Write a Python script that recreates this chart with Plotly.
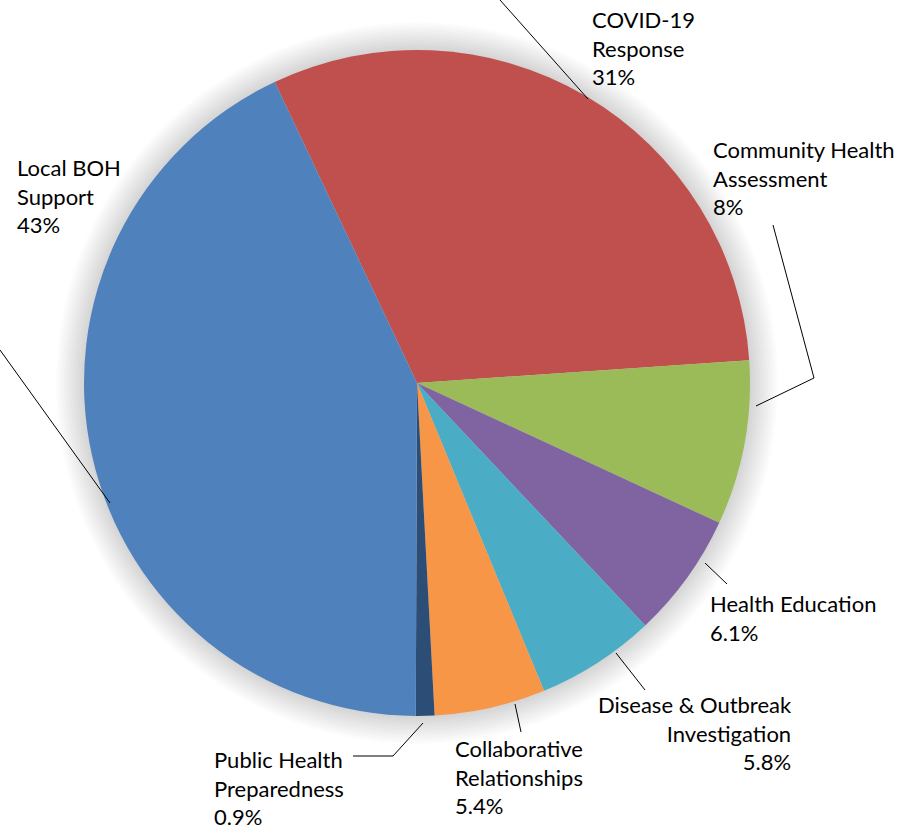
import plotly.graph_objects as go

# ---- data ----
categories = ["COVID-19 Response", "Community Health Assessment", "Health Education",
              "Disease & Outbreak Investigation", "Collaborative Relationships",
              "Public Health Preparedness", "Local BOH Support"]
values = [31, 8, 6.1, 5.8, 5.4, 0.9, 43]
pct_labels = ["31%", "8%", "6.1%", "5.8%", "5.4%", "0.9%", "43%"]
label_lines = [["COVID-19", "Response"], ["Community Health", "Assessment"], ["Health Education"],
               ["Disease & Outbreak", "Investigation"], ["Collaborative", "Relationships"],
               ["Public Health", "Preparedness"], ["Local BOH", "Support"]]
colors = ["#C0504D", "#9BBB59", "#8064A2", "#4BACC6", "#F79646", "#2C4D75", "#4F81BD"]

W, H = 902, 829
CX, CY, R = 417, 383, 333

def px(x):
    return x / W

def py(y):
    return 1 - y / H

fig = go.Figure(go.Pie(
    labels=categories, values=values, sort=False, direction="clockwise",
    rotation=-25.3, textinfo="none", hoverinfo="label+percent",
    marker=dict(colors=colors, line=dict(width=0)),
    domain=dict(x=[px(CX - R), px(CX + R)], y=[py(CY + R), py(CY - R)]),
    showlegend=False,
))

shapes = []
# soft shadow around pie
for i in range(14, 0, -1):
    rr = R + 2 * i
    shapes.append(dict(type="circle", xref="paper", yref="paper", layer="below",
                       x0=px(CX - rr), x1=px(CX + rr), y0=py(CY + rr), y1=py(CY - rr),
                       fillcolor="rgba(0,0,0,0.011)", line=dict(width=0)))

# leader lines (pixel paths)
leaders = [
    [(500, 0), (588, 99)],
    [(773, 225), (814, 378), (756, 406)],
    [(705, 563), (727, 584)],
    [(616, 653), (645, 690)],
    [(515, 704), (521, 732)],
    [(423, 723), (393, 756), (353, 756)],
    [(0, 350), (110, 503)],
]
for pts in leaders:
    for (x0, y0), (x1, y1) in zip(pts[:-1], pts[1:]):
        shapes.append(dict(type="line", xref="paper", yref="paper",
                           x0=px(x0), y0=py(y0), x1=px(x1), y1=py(y1),
                           line=dict(color="black", width=1)))

# label placement: (x, y-top, anchor)
label_pos = [
    (591, 5, "left"),
    (712, 135, "left"),
    (709, 589, "left"),
    (793, 690, "right"),
    (454, 734, "left"),
    (213, 745, "left"),
    (16, 153, "left"),
]
annotations = []
for lines, pct, (x, y, anc) in zip(label_lines, pct_labels, label_pos):
    annotations.append(dict(
        text="<br>".join(lines + [pct]), xref="paper", yref="paper",
        x=px(x), y=py(y), xanchor=anc, yanchor="top", align=anc,
        showarrow=False, font=dict(family="Lato", size=22, color="black"),
        borderpad=0,
    ))

fig.update_layout(
    width=W, height=H, margin=dict(l=0, r=0, t=0, b=0),
    paper_bgcolor="white", plot_bgcolor="white",
    shapes=shapes, annotations=annotations,
)

fig.write_html("out.html", config={"displayModeBar": False},
               post_script="document.body.style.margin='0';")
